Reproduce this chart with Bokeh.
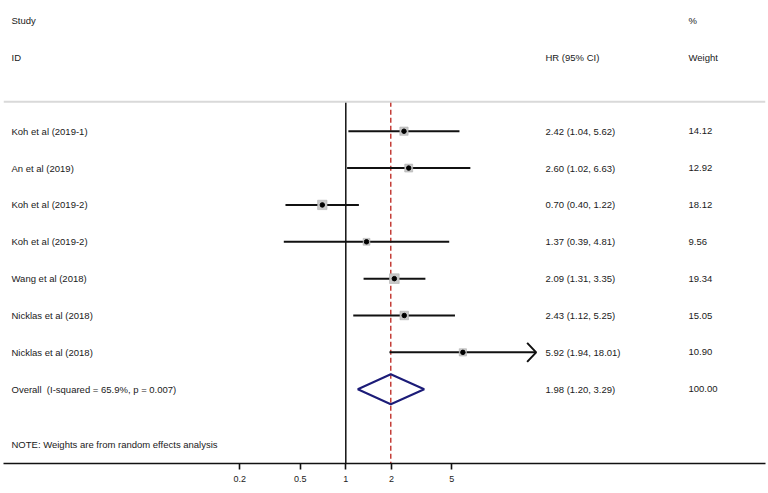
import numpy as np
from bokeh.plotting import figure
from bokeh.models import Range1d, FixedTicker, Span, ColumnDataSource, CustomJSTickFormatter, LinearScale
from bokeh.core.properties import value
from bokeh.embed import file_html
from bokeh.resources import INLINE

# ---------------- data ----------------
studies = ["Koh et al (2019-1)", "An et al (2019)", "Koh et al (2019-2)", "Koh et al (2019-2)",
           "Wang et al (2018)", "Nicklas et al (2018)", "Nicklas et al (2018)"]
hr = [2.42, 2.60, 0.70, 1.37, 2.09, 2.43, 5.92]
ci_lower = [1.04, 1.02, 0.40, 0.39, 1.31, 1.12, 1.94]
ci_upper = [5.62, 6.63, 1.22, 4.81, 3.35, 5.25, 18.01]
weights = [14.12, 12.92, 18.12, 9.56, 19.34, 15.05, 10.90]

overall_label = "Overall\u00a0 (I-squared = 65.9%, p = 0.007)"
overall_hr = 1.98
overall_lower = 1.20
overall_upper = 3.29
overall_weight = 100.00

header_study = ["Study", "ID"]
header_hr = "HR (95% CI)"
header_weight = ["%", "Weight"]
note_text = "NOTE: Weights are from random effects analysis"

tick_values = [0.2, 0.5, 1, 2, 5]
null_value = 1
arrow_threshold = 10   # CIs beyond this are drawn with an arrow

# ---------------- layout constants ----------------
W, H = 768, 493
FONT = "Liberation Sans"
FS = "9.5px"
first_row = 3
sep_row = 2.2
note_row = 11.5
y_bottom, y_top = 12.015, -0.546
x0_px, x1_px = 3, 765
origin_px = 345.3
px_per_decade = 151.6
px_per_row = 36.86
x_lo = 10 ** ((x0_px - origin_px) / px_per_decade)
x_hi = 10 ** ((x1_px - origin_px) / px_per_decade)
col_study, col_hr, col_weight = 11, 545, 688

rows = [first_row + i for i in range(len(studies))]
overall_row = first_row + len(studies)

p = figure(width=W, height=H, x_axis_type="log",
           x_range=Range1d(x_lo, x_hi), y_range=Range1d(y_bottom, y_top),
           output_backend="svg", toolbar_location=None,
           min_border_left=x0_px, min_border_right=W - x1_px, min_border_top=0,
           min_border_bottom=30, y_axis_location=None)
p.extra_x_ranges = {"px": Range1d(x0_px, x1_px)}
p.extra_x_scales = {"px": LinearScale()}
p.outline_line_color = None
p.xgrid.visible = False
p.ygrid.visible = False
p.background_fill_color = "white"
p.border_fill_color = "white"

# x axis
ax = p.xaxis[0]
ax.ticker = FixedTicker(ticks=tick_values)
ax.formatter = CustomJSTickFormatter(code="return tick.toString();")
ax.axis_line_width = 1.6
ax.axis_line_color = "#111111"
ax.major_tick_in = 0
ax.major_tick_out = 6
ax.major_tick_line_width = 1.6
ax.major_tick_line_color = "#111111"
ax.minor_tick_line_color = None
ax.major_label_text_font = FONT
ax.major_label_text_font_size = "9px"
ax.major_label_text_color = "#222222"
ax.major_label_standoff = 6

# separator line
p.add_layout(Span(location=sep_row, dimension="width", line_color="#d9d9d9", line_width=2))

# null line and overall line
p.segment(x0=[null_value], x1=[null_value], y0=[sep_row], y1=[y_bottom],
          line_color="#111111", line_width=1.5)
p.segment(x0=[overall_hr], x1=[overall_hr], y0=[sep_row], y1=[y_bottom],
          line_color="#c0302a", line_width=1.4, line_dash="5 3")

# study CIs
src = ColumnDataSource(dict(hr=hr, lo=ci_lower, hi=ci_upper, y=rows,
                            size=[2.2 * np.sqrt(w) for w in weights]))
p.segment(x0="lo", x1="hi", y0="y", y1="y", source=src, line_color="#111111", line_width=2)
p.scatter(x="hr", y="y", size="size", marker="square", source=src,
          fill_color="#c8c8c8", line_color="#b0b0b0", line_width=0.6)
p.scatter(x="hr", y="y", size=4.5, marker="circle", source=src,
          fill_color="#000000", line_color="#000000")

# arrow heads for truncated CIs
head_len = 10 ** (9 / px_per_decade)
head_half = 9.5 / px_per_row
for u, y in zip(ci_upper, rows):
    if u > arrow_threshold:
        p.line(x=[u / head_len, u, u / head_len], y=[y - head_half, y, y + head_half],
               line_color="#111111", line_width=2)

# overall diamond
dh = 15 / px_per_row
p.patch(x=[overall_lower, overall_hr, overall_upper, overall_hr],
        y=[overall_row, overall_row - dh, overall_row, overall_row + dh],
        fill_color=None, line_color="#1c1c78", line_width=2)

# texts
left_texts = header_study + studies + [overall_label, note_text]
left_rows = [0, 1] + rows + [overall_row, note_row]
hr_texts = [header_hr] + [f"{h:.2f} ({l:.2f}, {u:.2f})" for h, l, u in zip(hr, ci_lower, ci_upper)] \
    + [f"{overall_hr:.2f} ({overall_lower:.2f}, {overall_upper:.2f})"]
hr_rows = [1] + rows + [overall_row]
w_texts = header_weight + [f"{w:.2f}" for w in weights] + [f"{overall_weight:.2f}"]
w_rows = [0, 1] + rows + [overall_row]

for texts, trows, cx in [(left_texts, left_rows, col_study), (hr_texts, hr_rows, col_hr),
                         (w_texts, w_rows, col_weight)]:
    p.text(x=[cx] * len(texts), y=trows, text=texts, x_range_name="px",
           text_font=value(FONT), text_font_size=FS, text_color="#1a1a1a",
           text_baseline="middle", text_align="left")

open("out.html", "w").write(file_html(p, INLINE))
